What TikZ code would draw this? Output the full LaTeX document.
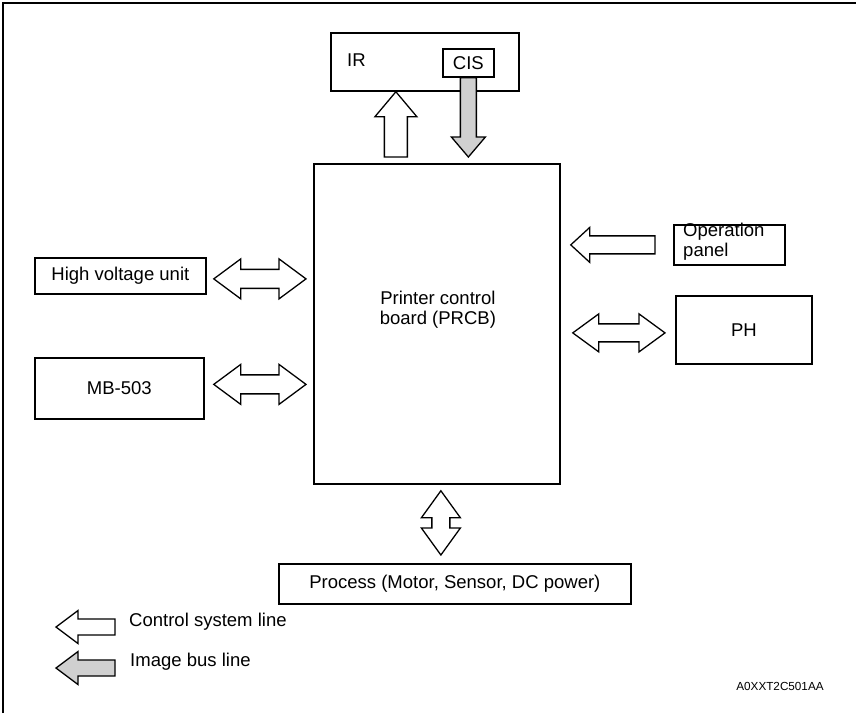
\documentclass[tikz,border=0pt]{standalone}
\usepackage{fontspec}
\setmainfont{Liberation Sans}
\usetikzlibrary{calc}

\definecolor{busgray}{RGB}{208,208,208}

% block arrow from tail #2 to tip #3: #4 head length, #5 head half width, #6 shaft half width
\newcommand{\singlearrow}[6]{%
    \coordinate (hb) at ($(#3)!#4!(#2)$);
    \draw[#1] (#3) -- ($(hb)!#5!-90:(#2)$) -- ($(hb)!#6!-90:(#2)$)
        -- ($(#2)!#6!90:(#3)$) -- ($(#2)!#6!-90:(#3)$)
        -- ($(hb)!#6!90:(#2)$) -- ($(hb)!#5!90:(#2)$) -- cycle;}
% block arrow with heads at both ends #2 and #3
\newcommand{\doublearrow}[6]{%
    \coordinate (ha) at ($(#2)!#4!(#3)$);
    \coordinate (hb) at ($(#3)!#4!(#2)$);
    \draw[#1] (#2) -- ($(ha)!#5!90:(#3)$) -- ($(ha)!#6!90:(#3)$)
        -- ($(hb)!#6!-90:(#2)$) -- ($(hb)!#5!-90:(#2)$) -- (#3)
        -- ($(hb)!#5!90:(#2)$) -- ($(hb)!#6!90:(#2)$)
        -- ($(ha)!#6!-90:(#3)$) -- ($(ha)!#5!-90:(#3)$) -- cycle;}

\begin{document}
\begin{tikzpicture}[x=0.3mm, y=-0.3mm,
    box/.style={draw, line width=1.5pt, inner sep=0pt, anchor=north west},
    lbl/.style={font=\fontsize{15.8}{17}\selectfont},
    ctrlarrow/.style={draw, line width=1.1pt, line join=miter, fill=white},
    busarrow/.style={ctrlarrow, fill=busgray}]
    \useasboundingbox (0,0) rectangle (856,713);

    % --- Frame ---
    \draw[line width=1.7pt] (3,713) -- (3,3) -- (856,3);

    % --- Units ---
    \node[box, minimum width=56.4mm, minimum height=17.4mm] (ir) at (330,32) {};
    \node[lbl, anchor=west, inner sep=0pt] (irtxt) at ($(ir.north west)+(17,28)$) {IR};
    \node[box, lbl, minimum width=15.3mm, minimum height=8.4mm] (cis) at (442,48) {CIS};

    \node[box, minimum width=73.8mm, minimum height=96mm] (main) at (313,163) {};
    \node[lbl, align=center] (maintxt) at ($(main.center)+(1,-14)$)
        {Printer control\\board (PRCB)};

    \node[box, lbl, minimum width=51.3mm, minimum height=10.8mm] (hv) at (34,257) {High voltage unit};
    \node[box, lbl, minimum width=50.7mm, minimum height=18.3mm] (mb) at (34,357) {MB-503};

    \node[box, minimum width=33.3mm, minimum height=12mm] (op) at (673,224) {};
    \node[lbl, align=left, anchor=north west, inner sep=0pt] (optxt)
        at ($(op.north west)+(10,-1)$) {Operation\\panel};
    \node[box, lbl, minimum width=40.8mm, minimum height=20.4mm] (ph) at (675,295) {PH};

    \node[box, lbl, minimum width=105.6mm, minimum height=12mm] (proc) at (278,563)
        {Process (Motor, Sensor, DC power)};

    % --- Arrow end points ---
    \coordinate (ir-tip) at ($(ir.south)+(-29,0)$);
    \coordinate (ir-tail) at ($(ir-tip |- main.north)+(0,-6)$);
    \coordinate (cis-tip) at ($(cis.south |- main.north)+(0,-6)$);
    \coordinate (hv-a) at ($(hv.east)+(7,3)$);
    \coordinate (hv-b) at ($(hv-a -| main.west)+(-7,0)$);
    \coordinate (mb-a) at ($(mb.east)+(9,-4)$);
    \coordinate (mb-b) at ($(mb-a -| main.west)+(-7,0)$);
    \coordinate (op-tip) at ($(op.west -| main.east)+(10,0)$);
    \coordinate (op-tail) at ($(op.west)+(-18,0)$);
    \coordinate (ph-a) at ($(ph.west -| main.east)+(12,3)$);
    \coordinate (ph-b) at ($(ph.west)+(-10,3)$);
    \coordinate (proc-a) at ($(main.south)+(4,6)$);
    \coordinate (proc-b) at ($(proc-a |- proc.north)+(0,-8)$);

    % --- Connections ---
    \singlearrow{ctrlarrow}{ir-tail}{ir-tip}{7.5mm}{6.3mm}{3.45mm}
    \singlearrow{busarrow}{cis.south}{cis-tip}{6mm}{5.1mm}{2.4mm}
    \doublearrow{ctrlarrow}{hv-a}{hv-b}{8.1mm}{6mm}{2.85mm}
    \doublearrow{ctrlarrow}{mb-a}{mb-b}{8.1mm}{6mm}{2.85mm}
    \singlearrow{ctrlarrow}{op-tail}{op-tip}{5.7mm}{5.25mm}{2.7mm}
    \doublearrow{ctrlarrow}{ph-a}{ph-b}{7.8mm}{5.7mm}{2.7mm}
    \doublearrow{ctrlarrow}{proc-a}{proc-b}{8.1mm}{5.85mm}{2.7mm}

    % --- Legend ---
    \node[lbl, anchor=west, inner sep=0pt] (leg1) at (129,622) {Control system line};
    \node[lbl, anchor=west, inner sep=0pt] (leg2) at (130,662) {Image bus line};
    \coordinate (leg1-tip) at ($(leg1.west)+(-73,5)$);
    \coordinate (leg1-tail) at ($(leg1.west)+(-14,5)$);
    \coordinate (leg2-tip) at ($(leg2.west)+(-74,6)$);
    \coordinate (leg2-tail) at ($(leg2.west)+(-15,6)$);
    \singlearrow{ctrlarrow}{leg1-tail}{leg1-tip}{6.6mm}{4.95mm}{2.4mm}
    \singlearrow{busarrow}{leg2-tail}{leg2-tip}{6.6mm}{4.95mm}{2.4mm}

    \node[font=\fontsize{10}{12}\selectfont] (code) at (780,686) {A0XXT2C501AA};
\end{tikzpicture}
\end{document}
